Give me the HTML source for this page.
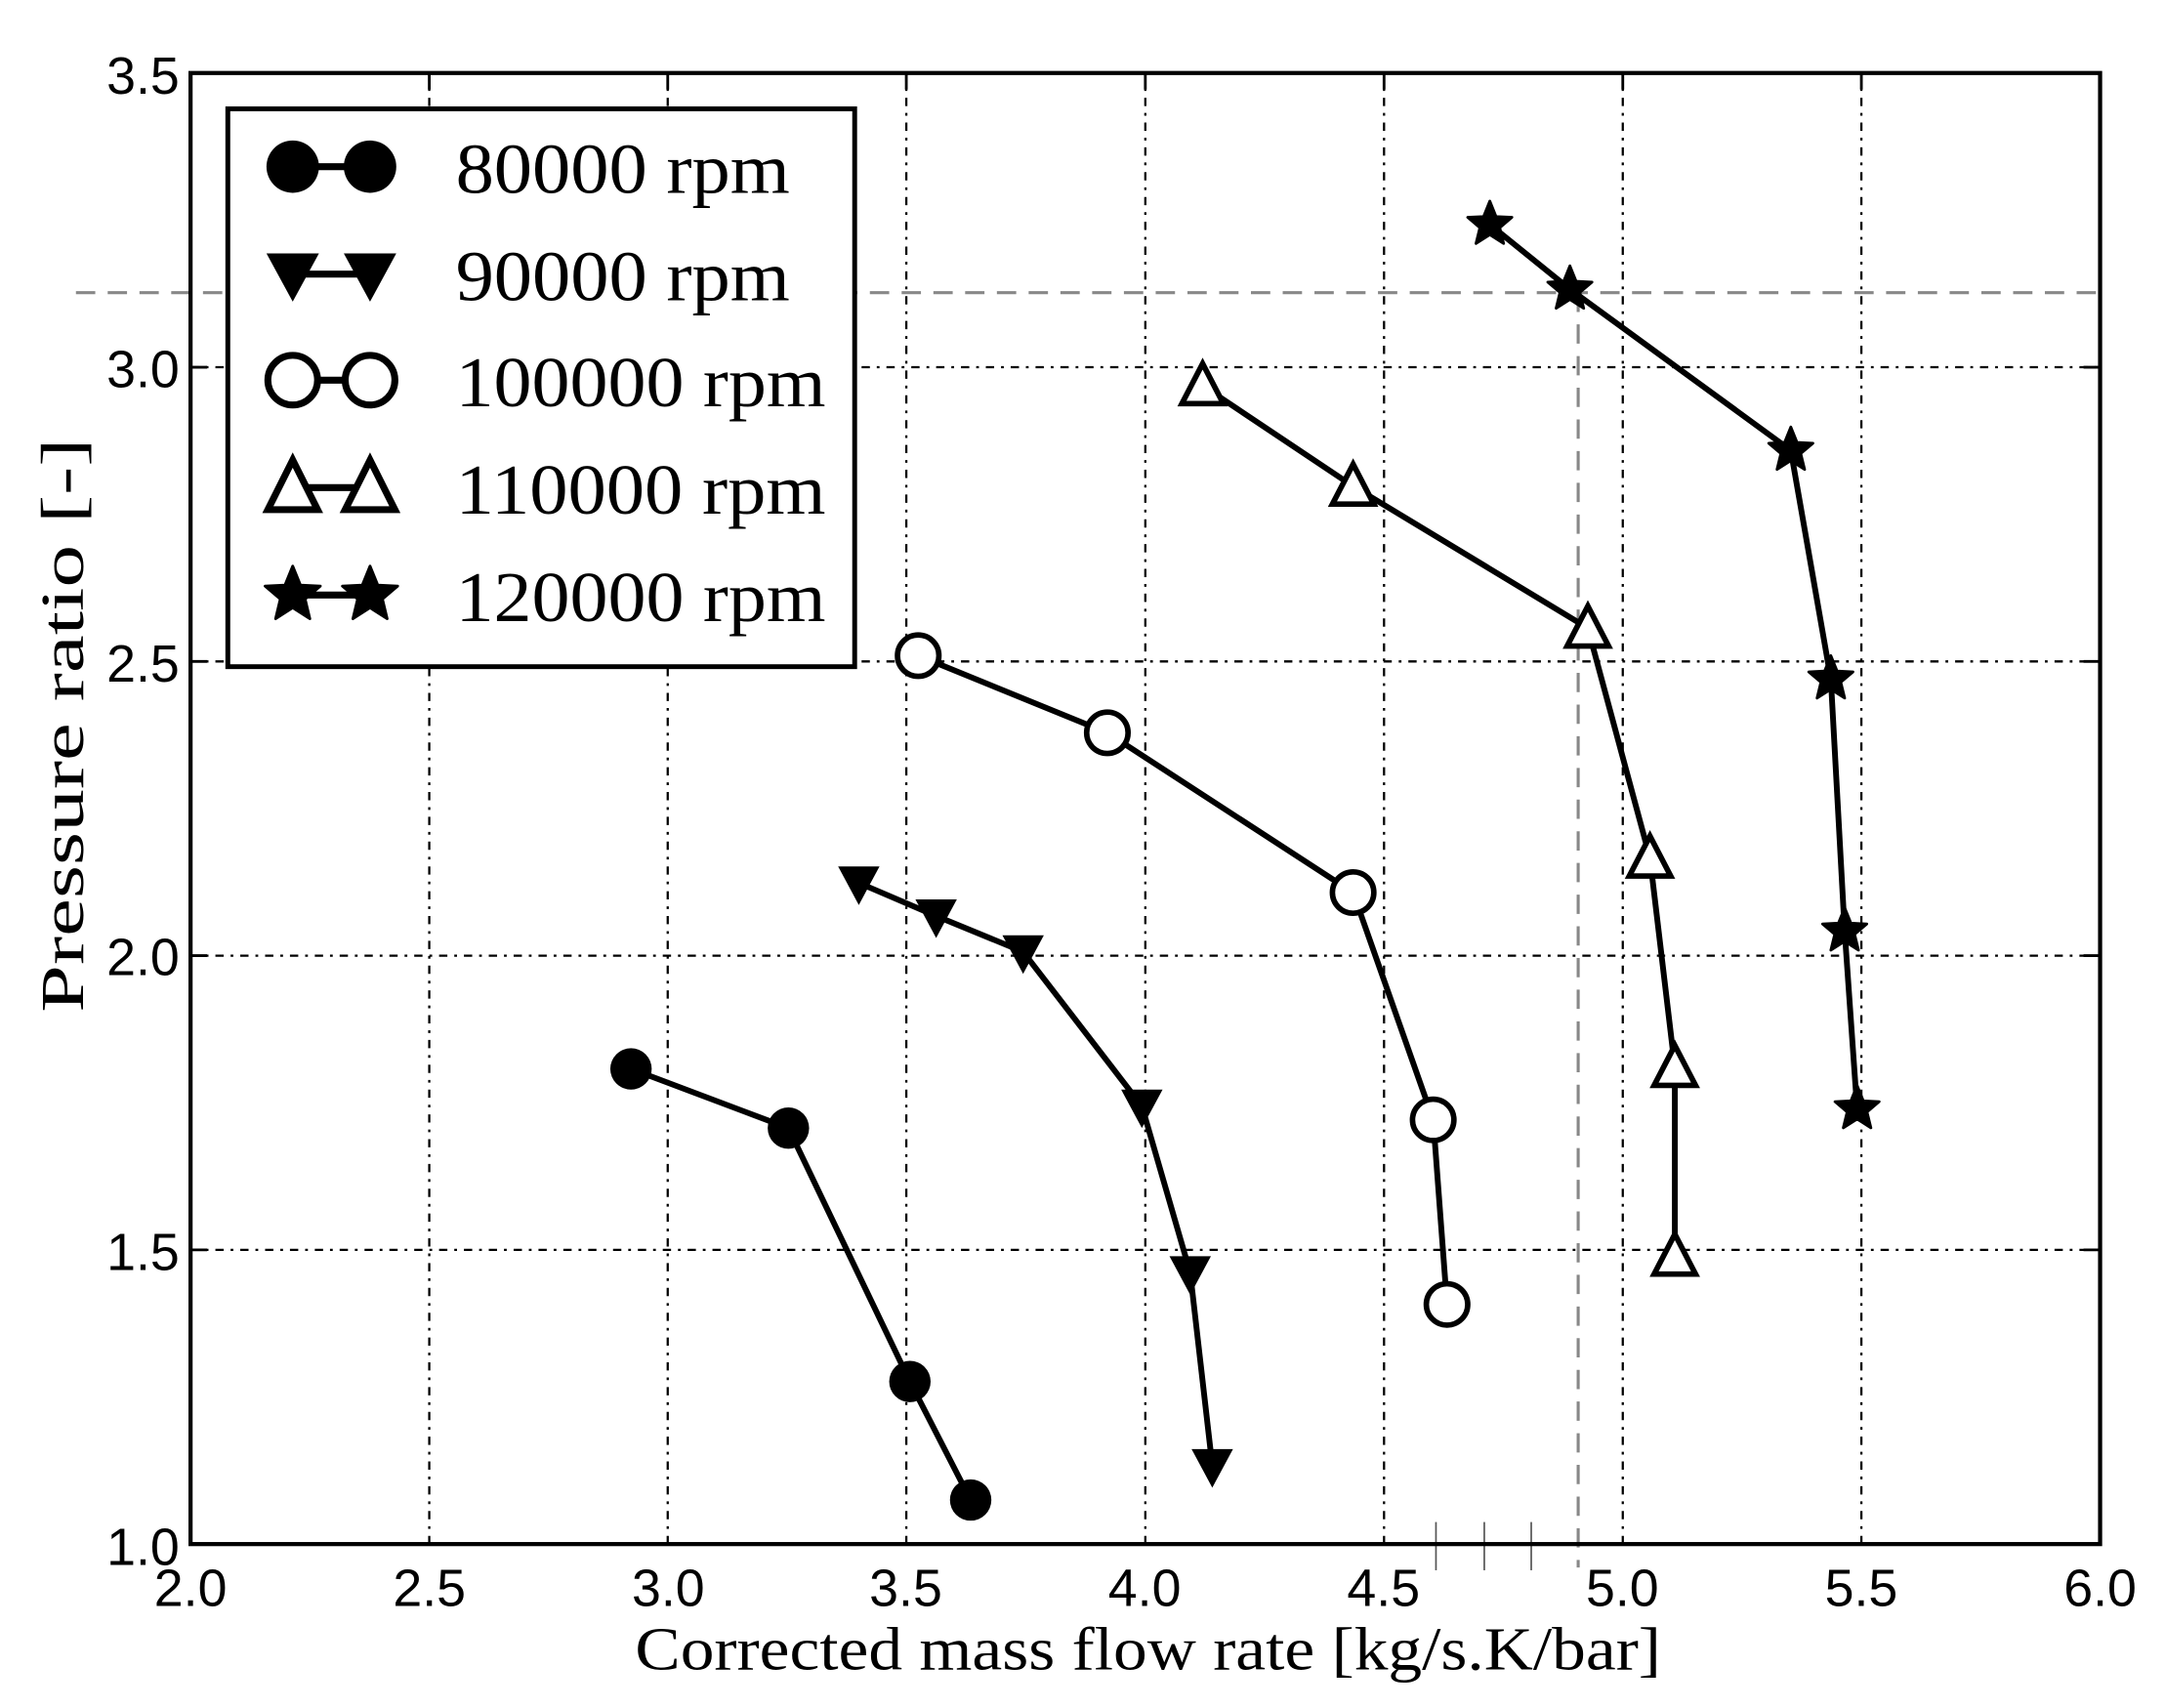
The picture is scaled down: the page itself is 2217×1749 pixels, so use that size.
<!DOCTYPE html>
<html><head><meta charset="utf-8"><style>
html,body{margin:0;padding:0;background:#fff;}
svg{display:block;}
</style></head><body>
<svg width="2217" height="1749" viewBox="0 0 1568 1240" preserveAspectRatio="none" xmlns="http://www.w3.org/2000/svg">
<defs>
<g id="c"><circle r="15" fill="#000"/></g>
<g id="o"><circle r="15" fill="#fff" stroke="#000" stroke-width="4"/></g>
<g id="v"><path d="M-15,-12 L15,-12 L0,16 Z" fill="#000"/></g>
<g id="t"><path d="M-15,13 L15,13 L0,-16 Z" fill="#fff" stroke="#000" stroke-width="4" stroke-linejoin="miter"/></g>
<g id="s"><path d="M0,-17 L4.5,-5.8 L16,-5.2 L7.2,2.3 L10,13.8 L0,7.4 L-10,13.8 L-7.2,2.3 L-16,-5.2 L-4.5,-5.8 Z" fill="#000" stroke="#000" stroke-width="2" stroke-linejoin="round"/></g>
<g id="Lc"><circle r="19" fill="#000"/></g>
<g id="Lo"><circle r="18" fill="#fff" stroke="#000" stroke-width="5"/></g>
<g id="Lv"><path d="M-19,-15 L19,-15 L0,20 Z" fill="#000"/></g>
<g id="Lt"><path d="M-18,16 L18,16 L0,-20 Z" fill="#fff" stroke="#000" stroke-width="5"/></g>
<g id="Ls"><path d="M0,-21 L5.6,-7.2 L20,-6.5 L9,2.9 L12.4,17.2 L0,9.2 L-12.4,17.2 L-9,2.9 L-20,-6.5 L-5.6,-7.2 Z" fill="#000" stroke="#000" stroke-width="2" stroke-linejoin="round"/></g>
</defs>
<rect width="1568" height="1240" fill="#fff"/>
<g stroke="#000" stroke-width="1.6" stroke-dasharray="6,5,2,5">
<line x1="310.9" y1="53" x2="310.9" y2="1121"/>
<line x1="483.6" y1="53" x2="483.6" y2="1121"/>
<line x1="656.4" y1="53" x2="656.4" y2="1121"/>
<line x1="829.5" y1="53" x2="829.5" y2="1121"/>
<line x1="1002.4" y1="53" x2="1002.4" y2="1121"/>
<line x1="1175.3" y1="53" x2="1175.3" y2="1121"/>
<line x1="1348.1" y1="53" x2="1348.1" y2="1121"/>
<line x1="138" y1="907.4" x2="1521" y2="907.4"/>
<line x1="138" y1="693.8" x2="1521" y2="693.8"/>
<line x1="138" y1="480.2" x2="1521" y2="480.2"/>
<line x1="138" y1="266.6" x2="1521" y2="266.6"/>
</g>
<g stroke="#888" stroke-width="2.2" stroke-dasharray="14,9">
<line x1="55" y1="212.5" x2="1521" y2="212.5"/>
<line x1="1143" y1="212.5" x2="1143" y2="1138"/>
</g>
<g stroke="#555" stroke-width="1.2">
<line x1="1040" y1="1105" x2="1040" y2="1140"/>
<line x1="1075" y1="1105" x2="1075" y2="1140"/>
<line x1="1109" y1="1105" x2="1109" y2="1140"/>
</g>
<rect x="138" y="53" width="1383" height="1068" fill="none" stroke="#000" stroke-width="3"/>
<g stroke="#000" stroke-width="2">
<line x1="310.9" y1="53" x2="310.9" y2="65"/><line x1="483.6" y1="53" x2="483.6" y2="65"/><line x1="656.4" y1="53" x2="656.4" y2="65"/><line x1="829.5" y1="53" x2="829.5" y2="65"/><line x1="1002.4" y1="53" x2="1002.4" y2="65"/><line x1="1175.3" y1="53" x2="1175.3" y2="65"/><line x1="1348.1" y1="53" x2="1348.1" y2="65"/>
<line x1="138" y1="907.4" x2="150" y2="907.4"/><line x1="138" y1="693.8" x2="150" y2="693.8"/><line x1="138" y1="480.2" x2="150" y2="480.2"/><line x1="138" y1="266.6" x2="150" y2="266.6"/>
<line x1="1509" y1="907.4" x2="1521" y2="907.4"/><line x1="1509" y1="693.8" x2="1521" y2="693.8"/><line x1="1509" y1="480.2" x2="1521" y2="480.2"/><line x1="1509" y1="266.6" x2="1521" y2="266.6"/>
</g>
<g fill="none" stroke="#000" stroke-width="4.2" stroke-linejoin="round">
<polyline points="457,776 571,819 659,1003 703,1089"/>
<polyline points="622,641 678,665 741,691 827,803 862,924 878,1064"/>
<polyline points="665,476 802,532 980,648 1038,813 1048,947"/>
<polyline points="871,280 980,353 1150,456 1195,623 1213,775 1213,912"/>
<polyline points="1079,163 1137,210 1297,327 1326,493 1336,676 1345,805"/>
</g>
<use href="#c" x="457" y="776"/><use href="#c" x="571" y="819"/><use href="#c" x="659" y="1003"/><use href="#c" x="703" y="1089"/>
<use href="#v" x="622" y="641"/><use href="#v" x="678" y="665"/><use href="#v" x="741" y="691"/><use href="#v" x="827" y="803"/><use href="#v" x="862" y="924"/><use href="#v" x="878" y="1064"/>
<use href="#o" x="665" y="476"/><use href="#o" x="802" y="532"/><use href="#o" x="980" y="648"/><use href="#o" x="1038" y="813"/><use href="#o" x="1048" y="947"/>
<use href="#t" x="871" y="280"/><use href="#t" x="980" y="353"/><use href="#t" x="1150" y="456"/><use href="#t" x="1195" y="623"/><use href="#t" x="1213" y="775"/><use href="#t" x="1213" y="912"/>
<use href="#s" x="1079" y="163"/><use href="#s" x="1137" y="210"/><use href="#s" x="1297" y="327"/><use href="#s" x="1326" y="493"/><use href="#s" x="1336" y="676"/><use href="#s" x="1345" y="805"/>
<rect x="165" y="79" width="454" height="405" fill="#fff" stroke="#000" stroke-width="3.5"/>
<g stroke="#000" stroke-width="5">
<line x1="213" y1="121" x2="267" y2="121"/><line x1="213" y1="199" x2="267" y2="199"/><line x1="213" y1="276" x2="267" y2="276"/><line x1="213" y1="354" x2="267" y2="354"/><line x1="213" y1="432" x2="267" y2="432"/>
</g>
<use href="#Lc" x="212" y="121"/><use href="#Lc" x="268" y="121"/>
<use href="#Lv" x="212" y="199"/><use href="#Lv" x="268" y="199"/>
<use href="#Lo" x="212" y="276"/><use href="#Lo" x="268" y="276"/>
<use href="#Lt" x="212" y="354"/><use href="#Lt" x="268" y="354"/>
<use href="#Ls" x="212" y="432"/><use href="#Ls" x="268" y="432"/>
<g font-family="Liberation Serif, serif" font-size="52" fill="#000">
<text x="330" y="140" textLength="242" lengthAdjust="spacingAndGlyphs">80000 rpm</text>
<text x="330" y="218" textLength="242" lengthAdjust="spacingAndGlyphs">90000 rpm</text>
<text x="330" y="295" textLength="268" lengthAdjust="spacingAndGlyphs">100000 rpm</text>
<text x="330" y="373" textLength="268" lengthAdjust="spacingAndGlyphs">110000 rpm</text>
<text x="330" y="451" textLength="268" lengthAdjust="spacingAndGlyphs">120000 rpm</text>
</g>
<g font-family="Liberation Sans Narrow, Liberation Sans, sans-serif" font-size="38" fill="#000" text-anchor="end">
<text x="130" y="68">3.5</text>
<text x="130" y="281">3.0</text>
<text x="130" y="495">2.5</text>
<text x="130" y="708">2.0</text>
<text x="130" y="922">1.5</text>
<text x="130" y="1136">1.0</text>
</g>
<g font-family="Liberation Sans Narrow, Liberation Sans, sans-serif" font-size="38" fill="#000" text-anchor="middle">
<text x="138" y="1166">2.0</text><text x="311" y="1166">2.5</text><text x="484" y="1166">3.0</text><text x="656" y="1166">3.5</text><text x="829" y="1166">4.0</text><text x="1002" y="1166">4.5</text><text x="1175" y="1166">5.0</text><text x="1348" y="1166">5.5</text><text x="1521" y="1166">6.0</text>
</g>
<text x="460" y="1212" font-family="Liberation Serif, serif" font-size="44" textLength="743" lengthAdjust="spacingAndGlyphs">Corrected mass flow rate [kg/s.K/bar]</text>
<text transform="translate(60,735) rotate(-90)" font-family="Liberation Serif, serif" font-size="44" textLength="417" lengthAdjust="spacingAndGlyphs">Pressure ratio [-]</text>
</svg>
</body></html>
